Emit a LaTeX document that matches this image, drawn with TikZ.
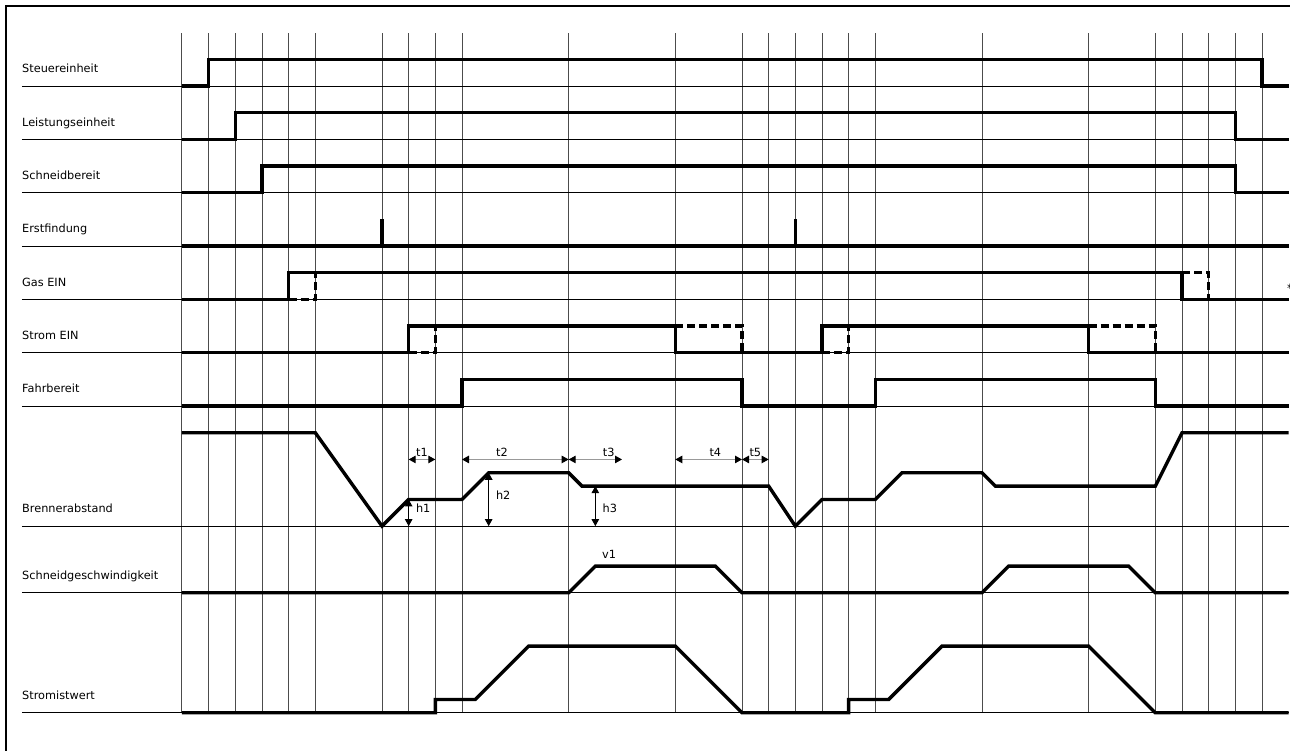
\documentclass[tikz,border=0pt]{standalone}
\usepackage{fontspec}
\setmainfont{DejaVu Sans}
\usetikzlibrary{arrows.meta,positioning}

\begin{document}
\begin{tikzpicture}[
  x=26.667pt, y=26.667pt,
  font=\fontsize{11.3}{13}\selectfont,
  gridline/.style={line width=1pt, black!70},
  baseline/.style={line width=1pt, black},
  signal/.style={line width=3.4pt, black},
  signaldash/.style={signal, dash pattern=on 8pt off 4pt},
  rowlabel/.style={anchor=base west, inner sep=0pt},
  dimtip/.tip={Triangle[length=7pt, width=7.5pt, color=black]},
  timedim/.style={line width=1pt, black!40, dimtip-dimtip},
  heightdim/.style={line width=1pt, black, dimtip-dimtip},
  dimlabel/.style={anchor=base, inner sep=0pt}]

  \useasboundingbox (-6.825,-1.425) rectangle (41.55,26.73);
  % frame, only left and top edge lie on the page
  \draw[line width=2pt] (-6.6,-3) rectangle (45,26.5);

  % time grid
  \foreach \x in {0,1,2,3,4,5,7.5,8.5,9.5,10.5,14.5,18.5,21,22,23,24,25,26,30,34,36.5,37.5,38.5,39.5,40.5}
    \draw[gridline] (\x,0) -- (\x,25.5);

  % rows
  \foreach \y/\name/\txt in {23.5/steuer/Steuereinheit, 21.5/leistung/Leistungseinheit,
      19.5/bereit/Schneidbereit, 17.5/erst/Erstfindung, 15.5/gas/Gas EIN,
      13.5/strom/Strom EIN, 11.5/fahr/Fahrbereit, 7/abstand/Brennerabstand,
      4.5/speed/Schneidgeschwindigkeit, 0/istwert/Stromistwert} {
    \draw[baseline] (-6,\y) -- (41.5,\y);
    \node[rowlabel] (\name) at (-6,\y+0.5) {\txt};
  }

  % digital signals
  \draw[signal] (0,23.5) -- (1,23.5) -- (1,24.5) -- (40.5,24.5) -- (40.5,23.5) -- (41.5,23.5);
  \draw[signal] (0,21.5) -- (2,21.5) -- (2,22.5) -- (39.5,22.5) -- (39.5,21.5) -- (41.5,21.5);
  \draw[signal] (0,19.5) -- (3,19.5) -- (3,20.5) -- (39.5,20.5) -- (39.5,19.5) -- (41.5,19.5);
  \draw[signal] (0,17.5) -- (41.5,17.5);
  \draw[signal] (7.5,17.5) -- (7.5,18.5);
  \draw[signal] (23,17.5) -- (23,18.5);
  \draw[signal] (0,15.5) -- (4,15.5) -- (4,16.5) -- (37.5,16.5) -- (37.5,15.5) -- (41.5,15.5);
  \draw[signaldash] (4,15.5) -- (5,15.5) -- (5,16.5);
  \draw[signaldash] (37.5,16.5) -- (38.5,16.5) -- (38.5,15.5);
  \draw[signal] (0,13.5) -- (8.5,13.5) -- (8.5,14.5) -- (18.5,14.5) -- (18.5,13.5)
    -- (24,13.5) -- (24,14.5) -- (34,14.5) -- (34,13.5) -- (41.5,13.5);
  \draw[signaldash] (8.5,13.5) -- (9.5,13.5) -- (9.5,14.5);
  \draw[signaldash] (18.5,14.5) -- (21,14.5) -- (21,13.5);
  \draw[signaldash] (24,13.5) -- (25,13.5) -- (25,14.5);
  \draw[signaldash] (34,14.5) -- (36.5,14.5) -- (36.5,13.5);
  \draw[signal] (0,11.5) -- (10.5,11.5) -- (10.5,12.5) -- (21,12.5) -- (21,11.5)
    -- (26,11.5) -- (26,12.5) -- (36.5,12.5) -- (36.5,11.5) -- (41.5,11.5);

  % analog signals
  \draw[signal] (0,10.5) -- (5,10.5) -- (7.5,7) -- (8.5,8) -- (10.5,8) -- (11.5,9) -- (14.5,9)
    -- (15,8.5) -- (22,8.5) -- (23,7) -- (24,8) -- (26,8) -- (27,9) -- (30,9) -- (30.5,8.5)
    -- (36.5,8.5) -- (37.5,10.5) -- (41.5,10.5);
  \draw[signal] (0,4.5) -- (14.5,4.5) -- (15.5,5.5) -- (20,5.5) -- (21,4.5) -- (30,4.5)
    -- (31,5.5) -- (35.5,5.5) -- (36.5,4.5) -- (41.5,4.5);
  \draw[signal] (0,0) -- (9.5,0) -- (9.5,0.5) -- (11,0.5) -- (13,2.5) -- (18.5,2.5) -- (21,0)
    -- (25,0) -- (25,0.5) -- (26.5,0.5) -- (28.5,2.5) -- (34,2.5) -- (36.5,0) -- (41.5,0);

  % times
  \draw[timedim] (8.5,9.5) -- (9.5,9.5);
  \draw[timedim] (10.5,9.5) -- (14.5,9.5);
  \draw[timedim] (14.5,9.5) -- (16.5,9.5);
  \draw[timedim] (18.5,9.5) -- (21,9.5);
  \draw[timedim] (21,9.5) -- (22,9.5);
  \node[dimlabel] (t1) at (9,9.62) {t1};
  \node[dimlabel] (t2) at (12,9.62) {t2};
  \node[dimlabel] (t3) at (16,9.62) {t3};
  \node[dimlabel] (t4) at (20,9.62) {t4};
  \node[dimlabel] (t5) at (21.5,9.62) {t5};

  % heights
  \draw[heightdim] (8.5,7) -- (8.5,8);
  \draw[heightdim] (11.5,7) -- (11.5,9);
  \draw[heightdim] (15.5,7) -- (15.5,8.5);
  \node[rowlabel] (h1) at (8.77,7.5) {h1};
  \node[rowlabel] (h2) at (11.77,8) {h2};
  \node[rowlabel] (h3) at (15.77,7.5) {h3};
  \node[rowlabel] (v1) at (15.75,5.77) {v1};
  \node[rowlabel] (star) at (41.43,15.75) {*};
\end{tikzpicture}
\end{document}
